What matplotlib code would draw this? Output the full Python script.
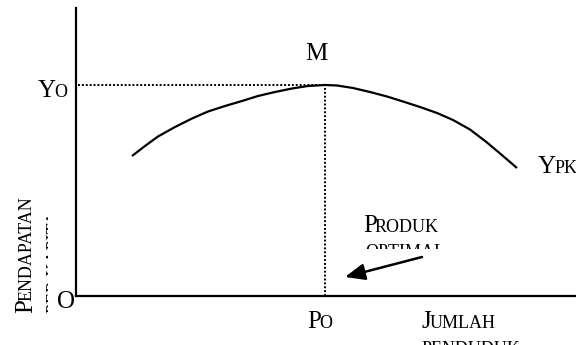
import matplotlib
matplotlib.use("Agg")
import matplotlib.pyplot as plt
from matplotlib import transforms

# curve: income per capita vs population
population = [5.6, 6.9, 8.2, 9.9, 11.6, 13.2, 14.9, 16.6, 18.2, 19.9, 21.6, 23.2, 24.9,
			  26.1, 27.7, 29.4, 31.1, 32.7, 34.4, 36.1, 37.7, 39.4, 41.1, 42.7, 44.1]
income = [14.0, 15.0, 15.95, 16.9, 17.75, 18.45, 19.0, 19.5, 20.0, 20.4, 20.75, 21.0, 21.1,
		  21.05, 20.8, 20.4, 19.95, 19.45, 18.9, 18.3, 17.6, 16.65, 15.35, 14.0, 12.8]
po = 24.9
yo = 21.1
arrow_from = (34.6, 3.9)
arrow_to = (26.9, 1.9)

W, H = 576, 345
BIG = 18
SMALL = 13
FONT = "Liberation Serif"

fig = plt.figure(figsize=(W / 100, H / 100), dpi=100)
ax = fig.add_axes([76 / W, 49 / H, 500 / W, 288 / H])
ax.set_xlim(0, 50)
ax.set_ylim(0, 28.8)
for side in ["top", "right"]:
	ax.spines[side].set_visible(False)
for side in ["left", "bottom"]:
	ax.spines[side].set_linewidth(1.6)
ax.set_xticks([])
ax.set_yticks([])

ax.plot(population, income, color="black", lw=1.6, solid_capstyle="butt", solid_joinstyle="round")
ax.plot([0.2, po], [yo, yo], color="black", lw=1.4, dashes=(1, 1))
ax.plot([po, po], [0, yo], color="black", lw=1.4, dashes=(1, 1))
ax.annotate("", xy=arrow_to, xytext=arrow_from,
			arrowprops=dict(arrowstyle="-|>,head_length=0.6,head_width=0.25",
							mutation_scale=20, lw=1.8, color="black",
							shrinkA=0, shrinkB=0))

renderer = fig.canvas.get_renderer()


def px(x, y):
	return x / W, 1 - y / H


def smallcaps(first, rest, x, y, rotation=0, clip=None):
	kw = dict(family=FONT, color="black", ha="left", va="baseline",
			  rotation=rotation, rotation_mode="anchor")
	fx, fy = px(x, y)
	parts = []
	dx = dy = 0
	if first:
		t1 = fig.text(fx, fy, first, fontsize=BIG, **kw)
		parts.append(t1)
		bb = t1.get_window_extent(renderer)
		if rotation == 90:
			dy = bb.height - 2
		else:
			dx = bb.width - 2
	tr = transforms.offset_copy(fig.transFigure, fig=fig, x=dx, y=dy, units="dots")
	t2 = fig.text(fx, fy, rest, fontsize=SMALL, transform=tr, **kw)
	parts.append(t2)
	if clip is not None:
		for t in parts:
			t.set_clip_box(transforms.Bbox.from_extents(*clip))
			t.set_clip_on(True)


fig.text(*px(305, 60), "M", family=FONT, fontsize=BIG, ha="left", va="baseline")
fig.text(*px(57, 308), "O", family=FONT, fontsize=BIG, ha="left", va="baseline")
smallcaps("Y", "O", 38, 97)
smallcaps("Y", "PK", 538, 173)
smallcaps("P", "O", 307, 328)
smallcaps("P", "RODUK", 363, 232)
smallcaps("", "OPTIMAL", 365, 257, clip=(0, H - 249, W, H))
smallcaps("J", "UMLAH", 422, 328)
smallcaps("", "PENDUDUK", 422, 354)
smallcaps("P", "ENDAPATAN", 32, 313, rotation=90)
smallcaps("", "PER KAPITA", 60, 313, rotation=90, clip=(0, 0, 48, H))

fig.savefig("out.png", dpi=100)
